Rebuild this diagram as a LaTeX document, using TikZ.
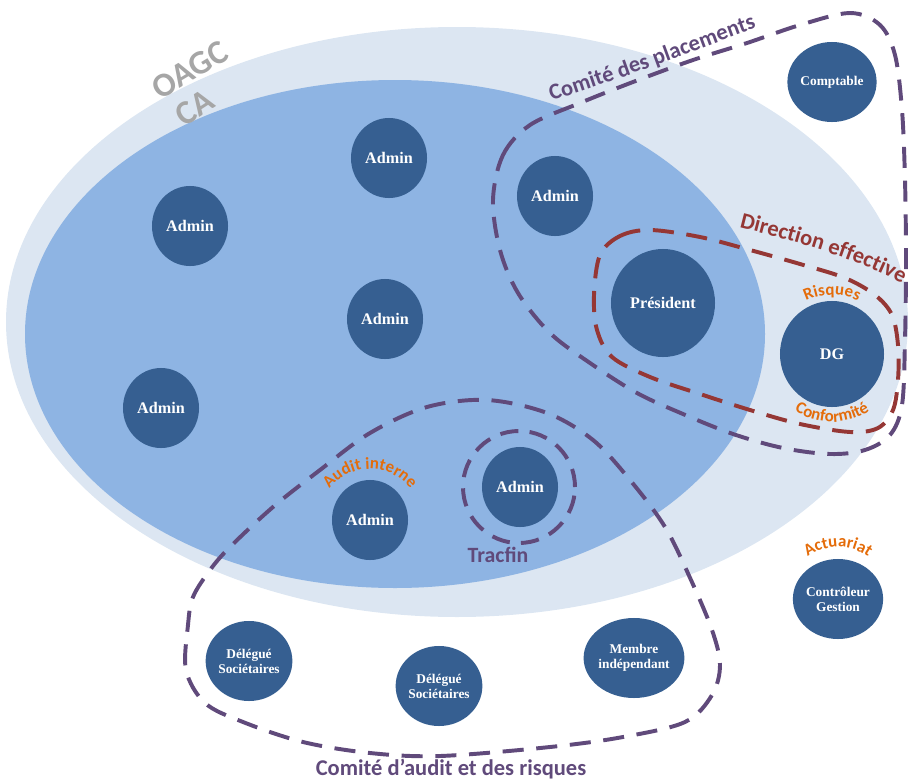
\documentclass[tikz,border=0pt]{standalone}
\usepackage{fontspec}
\setmainfont{Carlito}
\newfontfamily\tnr{Liberation Serif}
\usetikzlibrary{shapes.geometric,decorations.text}
\definecolor{outerc}{RGB}{220,230,242}
\definecolor{innerc}{RGB}{142,180,227}
\definecolor{nodec}{RGB}{54,95,145}
\definecolor{purp}{RGB}{96,74,123}
\definecolor{dred}{RGB}{149,55,53}
\definecolor{orng}{RGB}{228,108,10}
\definecolor{grayt}{RGB}{166,166,166}
\newcommand\orangelab{\color{orng}\bfseries\fontsize{12}{12}\selectfont}
\newcommand\purplab{\color{purp}\bfseries\fontsize{16}{16}\selectfont}
\newcommand\redlab{\color{dred}\bfseries\fontsize{16}{16}\selectfont}
\begin{document}
\begin{tikzpicture}[x=0.025cm,y=0.025cm,
  member/.style={ellipse, fill=nodec, inner sep=0pt, minimum width=1.9cm, minimum height=2.0cm,
    text=white, font=\tnr\bfseries\fontsize{11.5}{12}\selectfont, align=center},
  smallmember/.style={member, font=\tnr\bfseries\fontsize{9.5}{10.6}\selectfont},
  bigmember/.style={member, minimum width=2.6cm, minimum height=2.7cm},
  committee/.style={draw=purp, line width=2.8pt, dash pattern=on 15pt off 9pt},
  direction/.style={draw=dred, line width=2.8pt, dash pattern=on 15pt off 9pt},
  graylab/.style={text=grayt, font=\bfseries\fontsize{24}{24}\selectfont, inner sep=0pt},
  curvedlab/.style={decorate, decoration={text along path, text align=center, text={#1}}}
]
\useasboundingbox (0,0) rectangle (908,-783);

% sets
\fill[outerc] (457,-322) ellipse [x radius=451, y radius=295];
\fill[innerc] (395,-334) ellipse [x radius=370, y radius=254];

\node[graylab, rotate=31] (oagc) at (190,-70) {OAGC};
\node[graylab, rotate=33] (ca) at (195,-108) {CA};

% Comite des placements
\draw[committee] plot[smooth cycle, tension=0.55] coordinates {
  (493,-200) (503,-155) (530,-125) (580,-103) (633,-82) (693,-60) (747,-43)
  (800,-25) (850,-13) (880,-25) (895,-55) (902,-110) (905,-180) (906,-260)
  (905,-340) (902,-405) (890,-435) (865,-450) (830,-454) (783,-448) (733,-434)
  (683,-414) (637,-393) (590,-363) (550,-333) (518,-293) (500,-250)};

% Direction effective
\draw[direction] plot[smooth cycle, tension=0.55] coordinates {
  (600,-255) (620,-236) (650,-230) (700,-237) (750,-250) (800,-264) (845,-278)
  (875,-295) (892,-315) (898,-345) (898,-380) (893,-410) (878,-428) (850,-432)
  (800,-424) (750,-410) (700,-394) (650,-377) (612,-357) (597,-330) (594,-295)};

% Comite d'audit
\draw[committee] plot[smooth cycle, tension=0.55] coordinates {
  (188,-625) (193,-597) (210,-570) (230,-547) (273,-507) (320,-470) (370,-433)
  (427,-407) (487,-400) (547,-413) (593,-440) (630,-480) (665,-527) (691,-580)
  (712,-630) (720,-665) (712,-695) (685,-722) (623,-737) (550,-747) (440,-756)
  (370,-753) (303,-742) (243,-722) (205,-703) (186,-670)};

% Tracfin circle
\draw[committee, dash pattern=on 13pt off 8pt] (519,-487) circle [radius=56];

% members
\node[smallmember] (comptable) at (832,-82) {Comptable};
\node[member] (a1) at (389,-158) {Admin};
\node[member] (a2) at (190,-226) {Admin};
\node[member] (a3) at (555,-196) {Admin};
\node[member] (a4) at (385,-319) {Admin};
\node[member] (a5) at (161,-408) {Admin};
\node[member] (audit) at (370,-520) {Admin};
\node[member] (tracf) at (520,-487) {Admin};
\node[bigmember] (pres) at (663,-303) {Président};
\node[bigmember, minimum height=2.65cm] (dg) at (832,-354) {DG};
\node[smallmember] (ctrl) at (838,-599) {Contrôleur\\Gestion};
\node[smallmember] (del1) at (249,-661) {Délégué\\Sociétaires};
\node[smallmember] (del2) at (439,-686) {Délégué\\Sociétaires};
\node[smallmember] (membre) at (634,-658) {Membre\\indépendant};

% labels
\path[curvedlab={|\purplab|Comité des placements}]
  (538,-105) .. controls (615,-82) and (690,-52) .. (770,-23);
\path[curvedlab={|\redlab|Direction effective}]
  (726,-224) .. controls (790,-240) and (860,-258) .. (914,-290);
\path[curvedlab={|\orangelab|Risques}]
  (dg.center) ++(125:59) arc[start angle=125, end angle=55, radius=59];
\path[curvedlab={|\orangelab|Conformité}]
  (dg.center) ++(225:68) arc[start angle=225, end angle=315, radius=68];
\path[curvedlab={|\orangelab|Audit interne}]
  (audit.center) ++(150:51) arc[start angle=150, end angle=30, radius=51];
\path[curvedlab={|\orangelab|Actuariat}]
  (ctrl.center) ++(135:52) arc[start angle=135, end angle=45, radius=52];

\node[anchor=base, text=purp, font=\bfseries\fontsize{15.5}{16}\selectfont, inner sep=0pt]
  (tracfin) at (498,-562) {Tracfin};
\node[anchor=base, text=purp, font=\bfseries\fontsize{16}{16}\selectfont, inner sep=0pt]
  (cadr) at (451,-775) {Comité d’audit et des risques};
\end{tikzpicture}
\end{document}
